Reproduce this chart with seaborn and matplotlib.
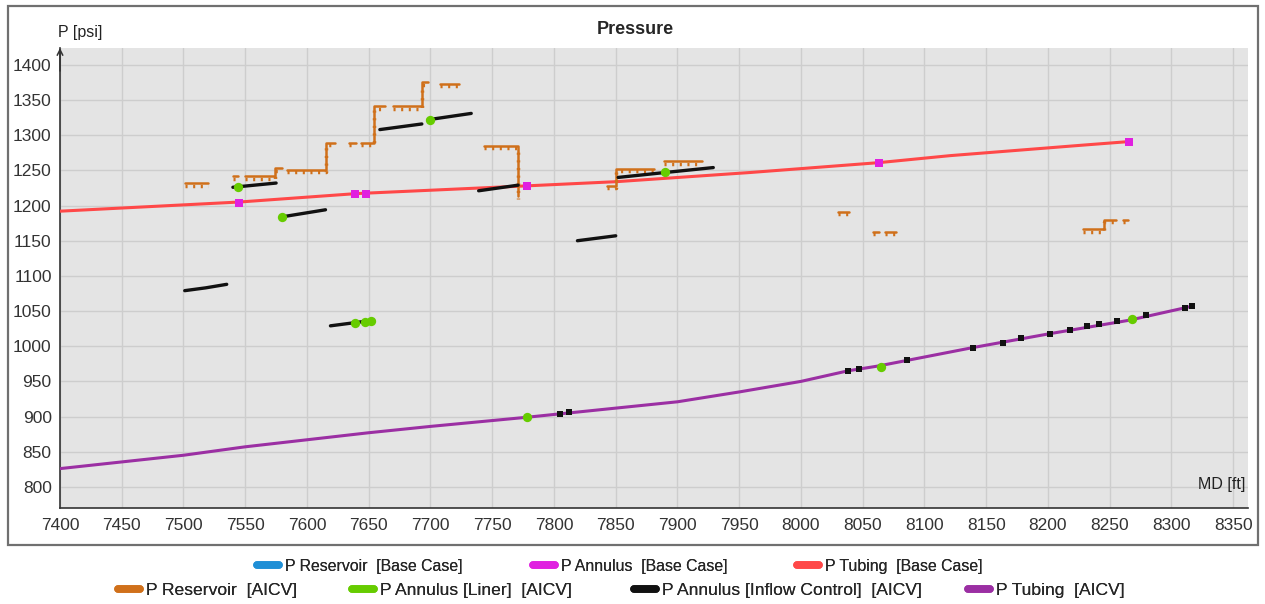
import numpy as np
import pandas as pd
import matplotlib
matplotlib.use("Agg")
import matplotlib.pyplot as plt
import matplotlib.transforms as mtransforms
from matplotlib.lines import Line2D
from matplotlib.patches import Rectangle
import seaborn as sns

# ---- data ----
tubing_base_md = [7400, 7545, 7640, 7778, 7851, 7959, 8063, 8121, 8229, 8266]
tubing_base_p = [1192, 1205, 1217, 1228, 1234, 1247, 1261, 1271, 1286, 1291]

annulus_base_md = [7545, 7639, 7648, 7778, 8063, 8266]
annulus_base_p = [1204, 1217, 1217, 1228, 1261, 1291]

tubing_aicv_md = [7400, 7500, 7550, 7650, 7700, 7778, 7850, 7900, 7950, 8000,
                  8038, 8063, 8139, 8202, 8266, 8317]
tubing_aicv_p = [826, 845, 857, 877, 886, 899, 912, 921, 935, 950,
                 965, 972, 998, 1018, 1037, 1057]

reservoir_seg = [1, 1, 2, 2, 3, 3, 3, 3, 4, 4, 4, 4, 5, 5, 6, 6, 6, 6,
                 7, 7, 7, 7, 8, 8, 9, 9, 9, 10, 10, 10, 10, 11, 11,
                 12, 12, 13, 13, 14, 14, 15, 15, 15, 15, 16, 16]
reservoir_md = [7501, 7520, 7540, 7544, 7550, 7574, 7574, 7580, 7584, 7615, 7615, 7623,
                7634, 7640, 7644, 7654, 7654, 7663, 7670, 7693, 7693, 7698,
                7708, 7723, 7743, 7771, 7771, 7843, 7850, 7850, 7881, 7889, 7920,
                8030, 8039, 8058, 8063, 8068, 8077, 8228, 8245, 8245, 8255, 8261, 8265]
reservoir_p = [1232, 1232, 1242, 1242, 1242, 1242, 1253, 1253, 1251, 1251, 1289, 1289,
               1289, 1289, 1289, 1289, 1341, 1341, 1341, 1341, 1375, 1375,
               1373, 1373, 1285, 1285, 1213, 1228, 1228, 1252, 1252, 1263, 1263,
               1191, 1191, 1163, 1163, 1163, 1163, 1166, 1166, 1180, 1180, 1180, 1180]

inflow_seg = [1, 1, 1, 2, 2, 3, 3, 4, 4, 5, 5, 6, 6, 7, 7, 8, 8, 9, 9, 9]
inflow_md = [7501, 7518, 7535, 7619, 7654, 7540, 7575, 7580, 7615, 7659, 7693,
             7698, 7733, 7739, 7771, 7819, 7850, 7852, 7890, 7929]
inflow_p = [1079, 1083, 1088, 1029, 1037, 1226, 1232, 1184, 1194, 1308, 1316,
            1322, 1331, 1221, 1229, 1150, 1157, 1240, 1247, 1254]

inflow_dot_md = [7805, 7812, 8038, 8047, 8086, 8139, 8164, 8178, 8202, 8218,
                 8232, 8241, 8256, 8279, 8311, 8317]
inflow_dot_p = [904, 906, 965, 967, 980, 998, 1005, 1011, 1018, 1023,
                1029, 1032, 1036, 1044, 1054, 1057]

liner_md = [7544, 7580, 7639, 7647, 7652, 7700, 7890, 7778, 8065, 8268]
liner_p = [1226, 1184, 1033, 1034, 1036, 1322, 1247, 899, 971, 1038]

legend_row1 = ["P Reservoir  [Base Case]", "P Annulus  [Base Case]", "P Tubing  [Base Case]"]
legend_row2 = ["P Reservoir  [AICV]", "P Annulus [Liner]  [AICV]",
               "P Annulus [Inflow Control]  [AICV]", "P Tubing  [AICV]"]

C_BLUE = "#1f8fd6"
C_MAG = "#e020e0"
C_RED = "#ff4848"
C_ORANGE = "#d0701a"
C_GREEN = "#66cc00"
C_BLACK = "#111111"
C_PURPLE = "#9b2fa3"

sns.set_style("white")
plt.rcParams["font.family"] = ["Liberation Sans", "DejaVu Sans"]

fig = plt.figure(figsize=(12.65, 6.04), dpi=100)
ax = fig.add_axes([60 / 1265, 1 - 508 / 604, (1248 - 60) / 1265, (508 - 48) / 604])
ax.set_facecolor("#e4e4e4")

# lines
sns.lineplot(x=tubing_base_md, y=tubing_base_p, ax=ax, color=C_RED, lw=2.2,
             estimator=None, sort=False, zorder=3)
sns.lineplot(x=tubing_aicv_md, y=tubing_aicv_p, ax=ax, color=C_PURPLE, lw=2.2,
             estimator=None, sort=False, zorder=3)

res = pd.DataFrame({"seg": reservoir_seg, "md": reservoir_md, "p": reservoir_p})
sns.lineplot(data=res, x="md", y="p", units="seg", estimator=None, sort=False,
             ax=ax, color=C_ORANGE, lw=1.8, zorder=4)
# small hanging ticks under the reservoir steps
tick_tr = mtransforms.offset_copy(ax.transData, fig=fig, x=0, y=-2.5, units="dots")
for _, g in res.groupby("seg"):
    ax.plot(g["md"], g["p"], color=C_ORANGE, lw=2.5, ls=(0, (0.6, 1.6)),
            transform=tick_tr, zorder=4)

inf = pd.DataFrame({"seg": inflow_seg, "md": inflow_md, "p": inflow_p})
sns.lineplot(data=inf, x="md", y="p", units="seg", estimator=None, sort=False,
             ax=ax, color=C_BLACK, lw=2.4, zorder=5, solid_capstyle="round")
sns.scatterplot(x=inflow_dot_md, y=inflow_dot_p, ax=ax, color=C_BLACK, marker="s",
                s=18, linewidth=0, zorder=6)

sns.scatterplot(x=liner_md, y=liner_p, ax=ax, color=C_GREEN, marker="o",
                s=45, linewidth=0, zorder=6)
sns.scatterplot(x=annulus_base_md, y=annulus_base_p, ax=ax, color=C_MAG, marker="s",
                s=38, linewidth=0, zorder=7)

ax.set_xlim(7400, 8362)
ax.set_ylim(770, 1424)
ax.set_xticks(np.arange(7400, 8351, 50))
ax.set_yticks(np.arange(800, 1401, 50))
ax.grid(True, color="#cdcdcd", lw=1)
ax.set_axisbelow(True)
ax.set_xlabel("")
ax.set_ylabel("")
ax.tick_params(axis="both", direction="out", length=5, width=1, color="#333333",
               labelsize=12.5, labelcolor="#333333", pad=2)
ax.tick_params(axis="y", pad=1)
for side in ["top", "right"]:
    ax.spines[side].set_visible(False)
for side in ["left", "bottom"]:
    ax.spines[side].set_color("#333333")
    ax.spines[side].set_linewidth(1.2)
ax.annotate("", xy=(0, 1.0), xytext=(0, 0.95), xycoords="axes fraction",
            arrowprops=dict(arrowstyle="->", lw=1.1, color="#333333",
                            shrinkA=0, shrinkB=0), annotation_clip=False)

fig.text(635 / 1265, 1 - 30 / 604, "Pressure", ha="center", va="center",
         fontsize=13, fontweight="bold")
fig.text(58 / 1265, 1 - 33 / 604, "P [psi]", ha="left", va="center", fontsize=11.5,
         color="#222222")
fig.text(1245 / 1265, 1 - 485 / 604, "MD [ft]", ha="right", va="center", fontsize=11.5,
         color="#222222")

# outer frame
fig.patches.append(Rectangle((8 / 1265, 1 - 545 / 604), 1250 / 1265, 539 / 604,
                             transform=fig.transFigure, fill=False,
                             edgecolor="#707070", lw=1.6))

# legend entries, each placed where the reference puts it
legend_x1 = [257, 533, 797]
legend_x2 = [118, 352, 634, 968]
colors1 = [C_BLUE, C_MAG, C_RED]
colors2 = [C_ORANGE, C_GREEN, C_BLACK, C_PURPLE]
for labels, xs, cols, yp, fs in [(legend_row1, legend_x1, colors1, 566, 11.4),
                                 (legend_row2, legend_x2, colors2, 590, 12.6)]:
    for lab, xp, c in zip(labels, xs, cols):
        h = Line2D([0], [0], color=c, lw=5.5, solid_capstyle="round")
        leg = fig.legend([h], [lab], loc="center left",
                         bbox_to_anchor=(xp / 1265, 1 - yp / 604),
                         frameon=False, fontsize=fs, handlelength=11.4 * 1.4 / fs,
                         handletextpad=0.35, borderpad=0, borderaxespad=0)
        fig.add_artist(leg)

fig.savefig("out.png", dpi=100, facecolor="white")
